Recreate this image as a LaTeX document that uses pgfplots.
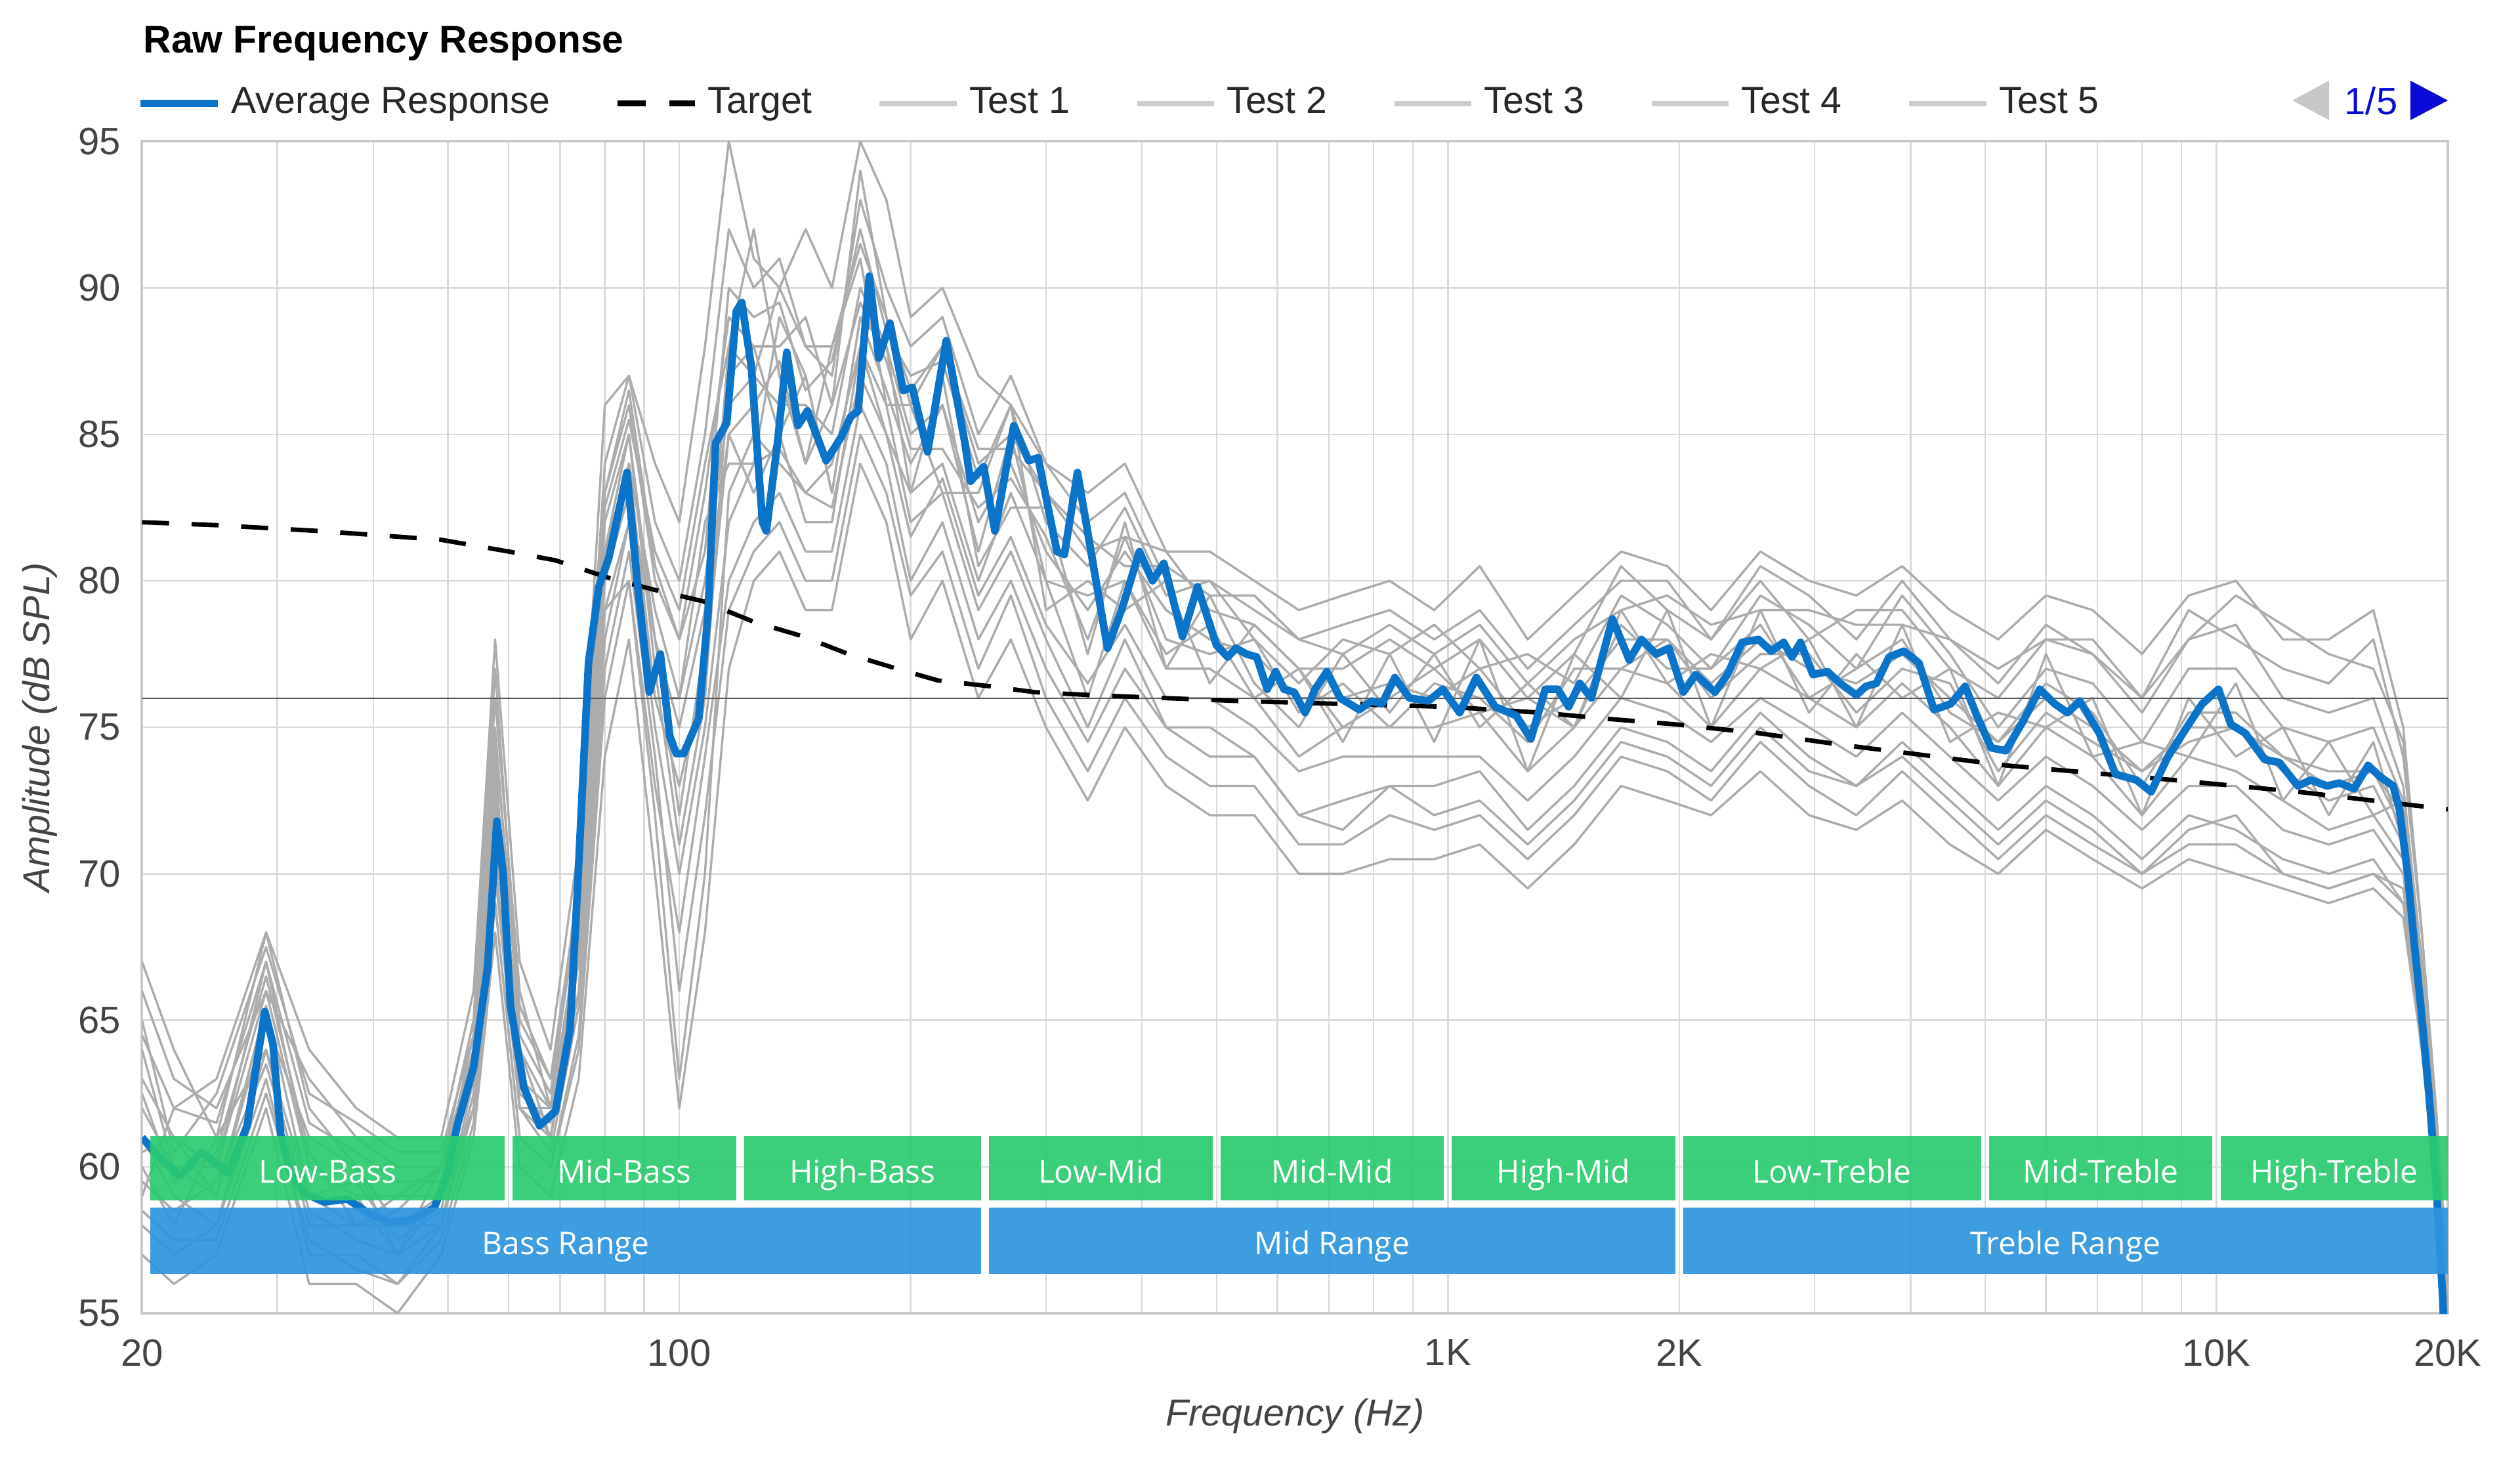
\documentclass[border=0pt]{standalone}
\usepackage{fontspec}
\setmainfont{Liberation Sans}
\newfontfamily\bandfont{Open Sans}
\usepackage{pgfplots}
\usepackage{pgfplotstable}
\pgfplotsset{compat=1.18}
\definecolor{avgblue}{RGB}{12,116,200}
\definecolor{gridgray}{RGB}{218,218,218}
\definecolor{axisgray}{RGB}{200,200,200}
\definecolor{testgray}{RGB}{172,172,172}
\definecolor{legendgray}{RGB}{205,205,205}
\definecolor{refline}{RGB}{90,90,90}
\definecolor{bandgreen}{RGB}{42,202,112}
\definecolor{bandblue}{RGB}{46,148,222}
\definecolor{navblue}{RGB}{10,10,215}
\definecolor{navgray}{RGB}{200,200,200}
\definecolor{labelgray}{RGB}{68,68,68}
\definecolor{legendtext}{RGB}{40,40,40}

\pgfplotstableread{
f g1 g2 g3 g4 g5 g6 g7 g8 g9 g10 g11 g12 g13 g14 g15 g16
20 66 58 63 60 62 59 61 64 67 57 60.5 64.5 59.5 62.5 65 58.5
22 63 57 61 58 60 62 59 60 64 56 61 62 58.5 59.5 60.5 57.5
25 62 58 60 61 59 63 58 60 61 57 59 61.5 59.5 60.5 62.5 57.5
29 66 63 67 64 65 68 64 66 68 62 65.5 67 63.5 66.5 67.5 62.5
33 63 57 60 59 61 62 58 60 64 56 59 61.5 58.5 60.5 62.5 57.5
38 61 57 59 58 60 60 58 59 62 56 59.5 60.5 57.5 58 61.5 56.5
43 60 56 57 59 58 57 58 59 61 55 57.5 59.5 57 58.5 60.5 56
49 60 58 59 60 58 60 59 59 61 57 58.5 59.5 58 60 60.5 57.5
54 65 62 64 63 63 65 62 64 66 61 63.5 64.5 62.5 64 64.5 61.5
57.6 76 69 74 71 72 77 70 73 78 68 72.5 75 70.5 73.5 74.5 69
62 66 61 62 64 63 65 62 64 67 60 62.5 64.5 62 63 65.5 61
68 62 60 62 61 61 63 61 62 64 59 61.5 62.5 60.5 62 63 60
74 70 64 68 66 66 69 67 68 71 63 67.5 69 65.5 68 69.5 64.5
80 84 76 82 79 79 83 80 81 86 74 81 83 78 80 82.5 77
86 87 80 85 82 80 86 84 84 87 78 85 86.5 82 83 85.5 81
93 82 73 78 76 72 80 76 79 84 70 77 80.5 75 78 81 74
100 80 68 72 76 63 78 73 76 82 62 71 78 70 75 79 66
108 85 74 78 82 70 83 77 80 88 68 76 81 75 79 84 72
116 92 80 88 84 83 89 85 86 95 77 87 90 82 85 88 79
125 90 82 92 84 85 88 83 87 91 80 88 89 84 86 87 81
135 91 83 87 89 84 88 85 86 90 81 85 89.5 84.5 87.5 90 82
146 88 81 84 87 83 89 82 86 92 79 87 86.5 83 84 88 80
158 87 81 88 83 84 86 82 85 90 79 83 87.5 82.5 86 88 80
172 93 86 91 89 88 94 88 90 95 84 89 92 87 89.5 91.5 85
186 90 84 86 88 85 89 86 88 93 82 86.5 88.5 85 87.5 89 83
200 88 80 86 83 83 86 82 85 89 78 84 87 81.5 84.5 86.5 79.5
220 89 82 83 87 84 88 83 86 90 80 86 87.5 83.5 84.5 88 81
245 85 78 83 80.5 80 84 79 82 87 76 81 83.5 79.5 82.5 84.5 77
270 87 80 86 82.5 83 85 81 84 86 78 85 86 81.5 83.5 84.5 79.5
300 84 77 79 82.5 80 83 78 81 84 75 80 82 78.5 81.5 83 76
340 82 74.5 80 77.5 76 81 75 79 83 72.5 79.5 80.5 76.5 78 81.5 73.5
380 83 77 79 82 80 81.5 78 81 84 75 80 82.5 78.5 81.5 80.5 76
430 80 75 80 77 77 81 75 79 81 73 77.5 79.5 76 78 80.5 74
490 80 74 76.5 79.5 77 79 75 78 81 72 78.5 80 76 77.5 79.5 73
560 79 74 78.5 76.5 76 78.5 74 77.5 80 72 76 78 75 78 79.5 73
640 78 72 77 75 74 77 72 76 79 70 77 76.5 73.5 75.5 78 71
730 78.5 72.5 74.5 77.5 75 77 71.5 76 79.5 70 75 78 74 76.5 77.5 71
840 79 73 77.5 75.5 75 78 73 76.5 80 70.5 76 77.5 74 75 78.5 72
960 78 73 74.5 77.5 75 77 72 76 79 70.5 77 78.5 74 76.5 77.5 71.5
1100 79 73.5 78 75 75.5 78 72.5 77 80.5 71 75.5 77 74 76 78.5 72
1270 77 71.5 73.5 76.5 73.5 76 71 75 78 69.5 76 77.5 72.5 74.5 76.5 70.5
1460 78.5 73 77.5 75 75 77.5 72.5 76 79.5 71 75 76.5 74 77 78 72
1680 80 75 76 79 77 80.5 74.5 78 81 73 78.5 79.5 76 77 79 74
1930 80 74.5 79 76.5 76.5 79 74 78 80.5 72.5 77 78.5 75.5 78 79.5 73.5
2200 78 73.5 75 77.5 75 78 73 76.5 79 72 77 77 74.5 76 78.5 72.5
2550 80.5 75.5 79 77 77 80 75 78 81 73.5 78.5 79.5 76 77.5 79 74.5
2950 79.5 74 75.5 78 76 78 73.5 77 80 72 76 78.5 75 77.5 79 73
3400 78 73 77.5 75 75 79 73 76.5 79.5 71.5 77 77 74 75.5 78.5 72
3900 80 74.5 76 78.5 76.5 79 74 77.5 80.5 72.5 78 79.5 75.5 77 78.5 73.5
4500 78 73 77 74.5 75 77 72.5 76 79 71 75.5 77.5 74 76.5 78 72
5200 76.5 71.5 73 75.5 73 76 71 74.5 78 70 74.5 75 72.5 73.5 77 70.5
6000 78.5 73 77.5 75 75 78 72.5 76 79.5 71.5 76.5 77 74 75.5 78 72
6900 77.5 72 74 76 74 78 71.5 75 79 70.5 75.5 76.5 73 74.5 77.5 71
8000 75.5 70.5 74.5 72 72 76 70 73.5 77.5 69.5 73 74.5 71.5 73.5 76 70
9200 78 72 74 76 74 79 71.5 75 79.5 70.5 75.5 77 73 74.5 78 71
10600 78.5 71.5 76.5 74 73.5 78 72 75 80 70 75.5 77 73 75 79.5 71
12200 76 70.5 72.5 75 72.5 77 70 74 78 69.5 74 75 71.5 73.5 78.5 70
14000 75.5 70 74.5 72 71.5 76.5 69.5 73 78 69 73.5 74.5 71 72.5 77.5 69.5
16000 76 70.5 72 74.5 72 78 70 73.5 79 69.5 73.5 75 71.5 73 77 70
17500 73 69 72.5 71 70.5 74 69.5 71.5 75 68.5 72 72.5 70 71 74.5 69
18500 67 64 66.5 65.5 65.5 68 64.5 66 68 64 66.5 67 65 66 68 64.5
19300 61.5 59.5 62 60.5 60.5 62 60 61 62 59 61 61.5 60 61 62 59.5
20000 55 55 56 55 55 56 55 55 56 55 55 55 55 55 56 55
}\tests

\pgfplotstableread{
f a
20 61.0
21.1 60.3
22.4 59.7
23.9 60.5
25.9 59.8
27.4 61.4
28.3 63.8
28.9 65.3
29.6 64.2
30.3 61.1
31.2 59.8
32.5 59.1
34.5 58.8
37 58.9
39.5 58.4
42 58.1
45 58.2
48 58.6
50 59.8
51.4 61.4
54 63.4
56.3 66.8
57.9 71.8
59 70.0
60.3 65.5
62.8 62.7
65.8 61.4
69 61.9
72.1 64.7
73.7 69.4
76.2 77.2
78.6 79.8
81 80.8
85.5 83.7
88.3 79.8
91.4 76.2
94.5 77.5
97.2 74.7
99.1 74.1
101.3 74.1
106 75.3
109 78.9
111.5 84.7
115.3 85.4
118.6 89.2
120.6 89.5
124.1 87.3
128.3 82.0
129.8 81.7
134.2 84.7
138 87.8
142.7 85.3
146.8 85.8
155.3 84.1
162.4 84.9
167.1 85.6
170.9 85.8
176.7 90.4
181.8 87.6
188 88.8
195.6 86.5
201 86.6
210.4 84.4
222.5 88.2
235.3 84.7
239.3 83.4
248.9 83.9
257.4 81.7
272.4 85.3
284.9 84.1
293 84.2
310 81.0
317 80.9
329.7 83.7
360.7 77.7
377.3 79.1
396.9 81.0
412.8 80.0
427 80.6
451.6 78.1
472.4 79.8
500 77.8
517 77.4
530 77.7
547 77.5
564 77.4
582 76.3
597 76.9
612 76.3
631 76.2
652 75.5
672 76.3
696 76.9
724 76.0
767 75.6
796 75.9
821 75.8
853 76.7
891 76.0
943 75.9
985 76.3
1036 75.5
1089 76.7
1152 75.7
1227 75.4
1282 74.6
1339 76.3
1390 76.3
1436 75.7
1485 76.5
1537 76.0
1637 78.7
1722 77.3
1786 78.0
1866 77.5
1939 77.7
2024 76.2
2101 76.8
2225 76.2
2310 76.8
2414 77.9
2536 78.0
2634 77.6
2734 77.9
2804 77.4
2876 77.9
2985 76.8
3119 76.9
3239 76.5
3400 76.1
3500 76.4
3610 76.5
3750 77.4
3920 77.6
4100 77.2
4290 75.6
4510 75.8
4710 76.4
4860 75.5
5090 74.3
5320 74.2
5600 75.2
5890 76.3
6160 75.8
6400 75.5
6640 75.9
7040 74.8
7390 73.4
7870 73.2
8220 72.8
8650 74.0
9150 75.0
9580 75.8
10060 76.3
10440 75.1
10900 74.8
11550 73.9
12070 73.8
12760 73.0
13260 73.2
13930 73.0
14450 73.1
15100 72.9
15750 73.7
16350 73.3
16980 73.0
17300 72.2
17750 69.9
18090 67.6
18440 65.5
18900 62.5
19300 59.5
19700 55.5
19800 54.0
}\avg

\pgfplotstableread{
f t
20 82.0
25 81.9
34 81.7
49 81.4
60 81.0
69 80.7
81 80.1
92.6 79.7
107.5 79.3
125 78.6
145 78.1
166 77.5
192 77.0
217 76.6
254 76.4
290 76.2
343 76.1
530 75.9
724 75.8
1000 75.7
1322 75.5
1595 75.3
1980 75.1
2536 74.8
3260 74.4
5320 73.7
8800 73.2
12760 72.8
20000 72.2
}\target

\begin{document}
\begin{tikzpicture}
\useasboundingbox (0,0) rectangle (960pt,554.75pt);
\begin{axis}[
  at={(54.1pt,54.5pt)}, anchor=south west,
  scale only axis, width=878.4pt, height=446.4pt,
  xmode=log, xmin=20, xmax=20000, ymin=55, ymax=95,
  xtick={20,100,1000,2000,10000,20000},
  xticklabels={20,100,1K,2K,10K,20K},
  minor xtick={30,40,50,60,70,80,90,200,300,400,500,600,700,800,900,3000,4000,5000,6000,7000,8000,9000},
  ytick={55,60,65,70,75,80,85,90,95},
  xmajorgrids, xminorgrids, ymajorgrids,
  major grid style={draw=gridgray, line width=0.6pt},
  minor grid style={draw=gridgray, line width=0.6pt},
  axis line style={draw=axisgray, line width=1pt},
  major tick length=0pt, minor tick length=0pt,
  /pgf/number format/assume math mode=true,
  ticklabel style={font=\fontsize{14.5}{17}\selectfont, text=labelgray, inner sep=0pt},
  yticklabel style={xshift=-8pt},
  xticklabel style={yshift=-9.75pt},
  xlabel={Frequency (Hz)}, ylabel={Amplitude (dB SPL)},
  label style={font=\fontsize{14.3}{17}\selectfont\itshape, text=labelgray},
  xlabel style={at={(axis description cs:0.5,-0.0879)}, anchor=center},
  ylabel style={at={(axis description cs:-0.0442,0.5)}, anchor=center},
  clip=true,
  legend columns=-1,
  legend image code/.code={\draw[#1] (0pt,0pt) -- (29.3pt,0pt);},
  legend style={at={(axis description cs:0,1)}, anchor=south west, xshift=-2.1pt, yshift=10.6pt,
    draw=none, fill=none, inner xsep=0pt, inner ysep=0pt,
    font=\fontsize{14.3}{17}\selectfont, text=legendtext,
    nodes={inner sep=0pt, text height=0.716em, text depth=0pt},
    cells={anchor=west},
    /tikz/every odd column/.append style={column sep=3.9pt},
    /tikz/every even column/.append style={column sep=24.7pt}},
]
\addlegendimage{avgblue, line width=2.8pt}
\addlegendentry{Average Response}
\addlegendimage{black, line width=2.2pt, dash pattern=on 10.7pt off 8.9pt}
\addlegendentry{Target}
\addlegendimage{legendgray, line width=2pt}
\addlegendentry{Test 1}
\addlegendimage{legendgray, line width=2pt}
\addlegendentry{Test 2}
\addlegendimage{legendgray, line width=2pt}
\addlegendentry{Test 3}
\addlegendimage{legendgray, line width=2pt}
\addlegendentry{Test 4}
\addlegendimage{legendgray, line width=2pt}
\addlegendentry{Test 5}

\pgfplotsinvokeforeach{1,...,16}{
  \addplot[testgray, line width=0.85pt, line join=round, forget plot] table[x=f, y=g#1] {\tests};
}
\addplot[refline, line width=0.5pt, forget plot] coordinates {(20,76) (20000,76)};
\addplot[black, line width=1.7pt, dash pattern=on 10.3pt off 8.6pt, forget plot] table[x=f, y=t] {\target};
\addplot[avgblue, line width=2.9pt, line join=round, forget plot] table[x=f, y=a] {\avg};

% frequency bands
\addplot[fill=bandgreen, fill opacity=0.92, draw=none, forget plot] coordinates {(20.5,58.85) (59.3,58.85) (59.3,61.05) (20.5,61.05)} -- cycle;
\addplot[fill=bandgreen, fill opacity=0.92, draw=none, forget plot] coordinates {(60.7,58.85) (118.6,58.85) (118.6,61.05) (60.7,61.05)} -- cycle;
\addplot[fill=bandgreen, fill opacity=0.92, draw=none, forget plot] coordinates {(121.4,58.85) (247,58.85) (247,61.05) (121.4,61.05)} -- cycle;
\addplot[fill=bandgreen, fill opacity=0.92, draw=none, forget plot] coordinates {(253,58.85) (494,58.85) (494,61.05) (253,61.05)} -- cycle;
\addplot[fill=bandgreen, fill opacity=0.92, draw=none, forget plot] coordinates {(506,58.85) (988,58.85) (988,61.05) (506,61.05)} -- cycle;
\addplot[fill=bandgreen, fill opacity=0.92, draw=none, forget plot] coordinates {(1012,58.85) (1976,58.85) (1976,61.05) (1012,61.05)} -- cycle;
\addplot[fill=bandgreen, fill opacity=0.92, draw=none, forget plot] coordinates {(2024,58.85) (4941,58.85) (4941,61.05) (2024,61.05)} -- cycle;
\addplot[fill=bandgreen, fill opacity=0.92, draw=none, forget plot] coordinates {(5060,58.85) (9881,58.85) (9881,61.05) (5060,61.05)} -- cycle;
\addplot[fill=bandgreen, fill opacity=0.92, draw=none, forget plot] coordinates {(10120,58.85) (20000,58.85) (20000,61.05) (10120,61.05)} -- cycle;
\addplot[fill=bandblue, fill opacity=0.92, draw=none, forget plot] coordinates {(20.5,56.35) (247,56.35) (247,58.6) (20.5,58.6)} -- cycle;
\addplot[fill=bandblue, fill opacity=0.92, draw=none, forget plot] coordinates {(253,56.35) (1976,56.35) (1976,58.6) (253,58.6)} -- cycle;
\addplot[fill=bandblue, fill opacity=0.92, draw=none, forget plot] coordinates {(2024,56.35) (20000,56.35) (20000,58.6) (2024,58.6)} -- cycle;

\begin{scope}[every node/.style={text=white, font=\bandfont\fontsize{12}{14}\selectfont, anchor=base, inner sep=0pt}]
\node at (axis cs:34.9,59.45) {Low-Bass};
\node at (axis cs:84.8,59.45) {Mid-Bass};
\node at (axis cs:173.2,59.45) {High-Bass};
\node at (axis cs:353.5,59.45) {Low-Mid};
\node at (axis cs:707,59.45) {Mid-Mid};
\node at (axis cs:1414,59.45) {High-Mid};
\node at (axis cs:3162,59.45) {Low-Treble};
\node at (axis cs:7071,59.45) {Mid-Treble};
\node at (axis cs:14227,59.45) {High-Treble};
\node at (axis cs:71.2,57.0) {Bass Range};
\node at (axis cs:707,57.0) {Mid Range};
\node at (axis cs:6362,57.0) {Treble Range};
\end{scope}
\end{axis}

\node[anchor=base west, inner sep=0pt, font=\bfseries\fontsize{14.7}{17}\selectfont] at (54.5pt,534.5pt) {Raw Frequency Response};
\fill[navgray] (873.25pt,516.5pt) -- (887.25pt,524pt) -- (887.25pt,509pt) -- cycle;
\node[anchor=base, inner sep=0pt, text=navblue, font=\fontsize{14.5}{17}\selectfont] at (903.25pt,511pt) {1/5};
\fill[navblue] (918.25pt,524pt) -- (932.5pt,516.5pt) -- (918.25pt,509pt) -- cycle;
\end{tikzpicture}
\end{document}
